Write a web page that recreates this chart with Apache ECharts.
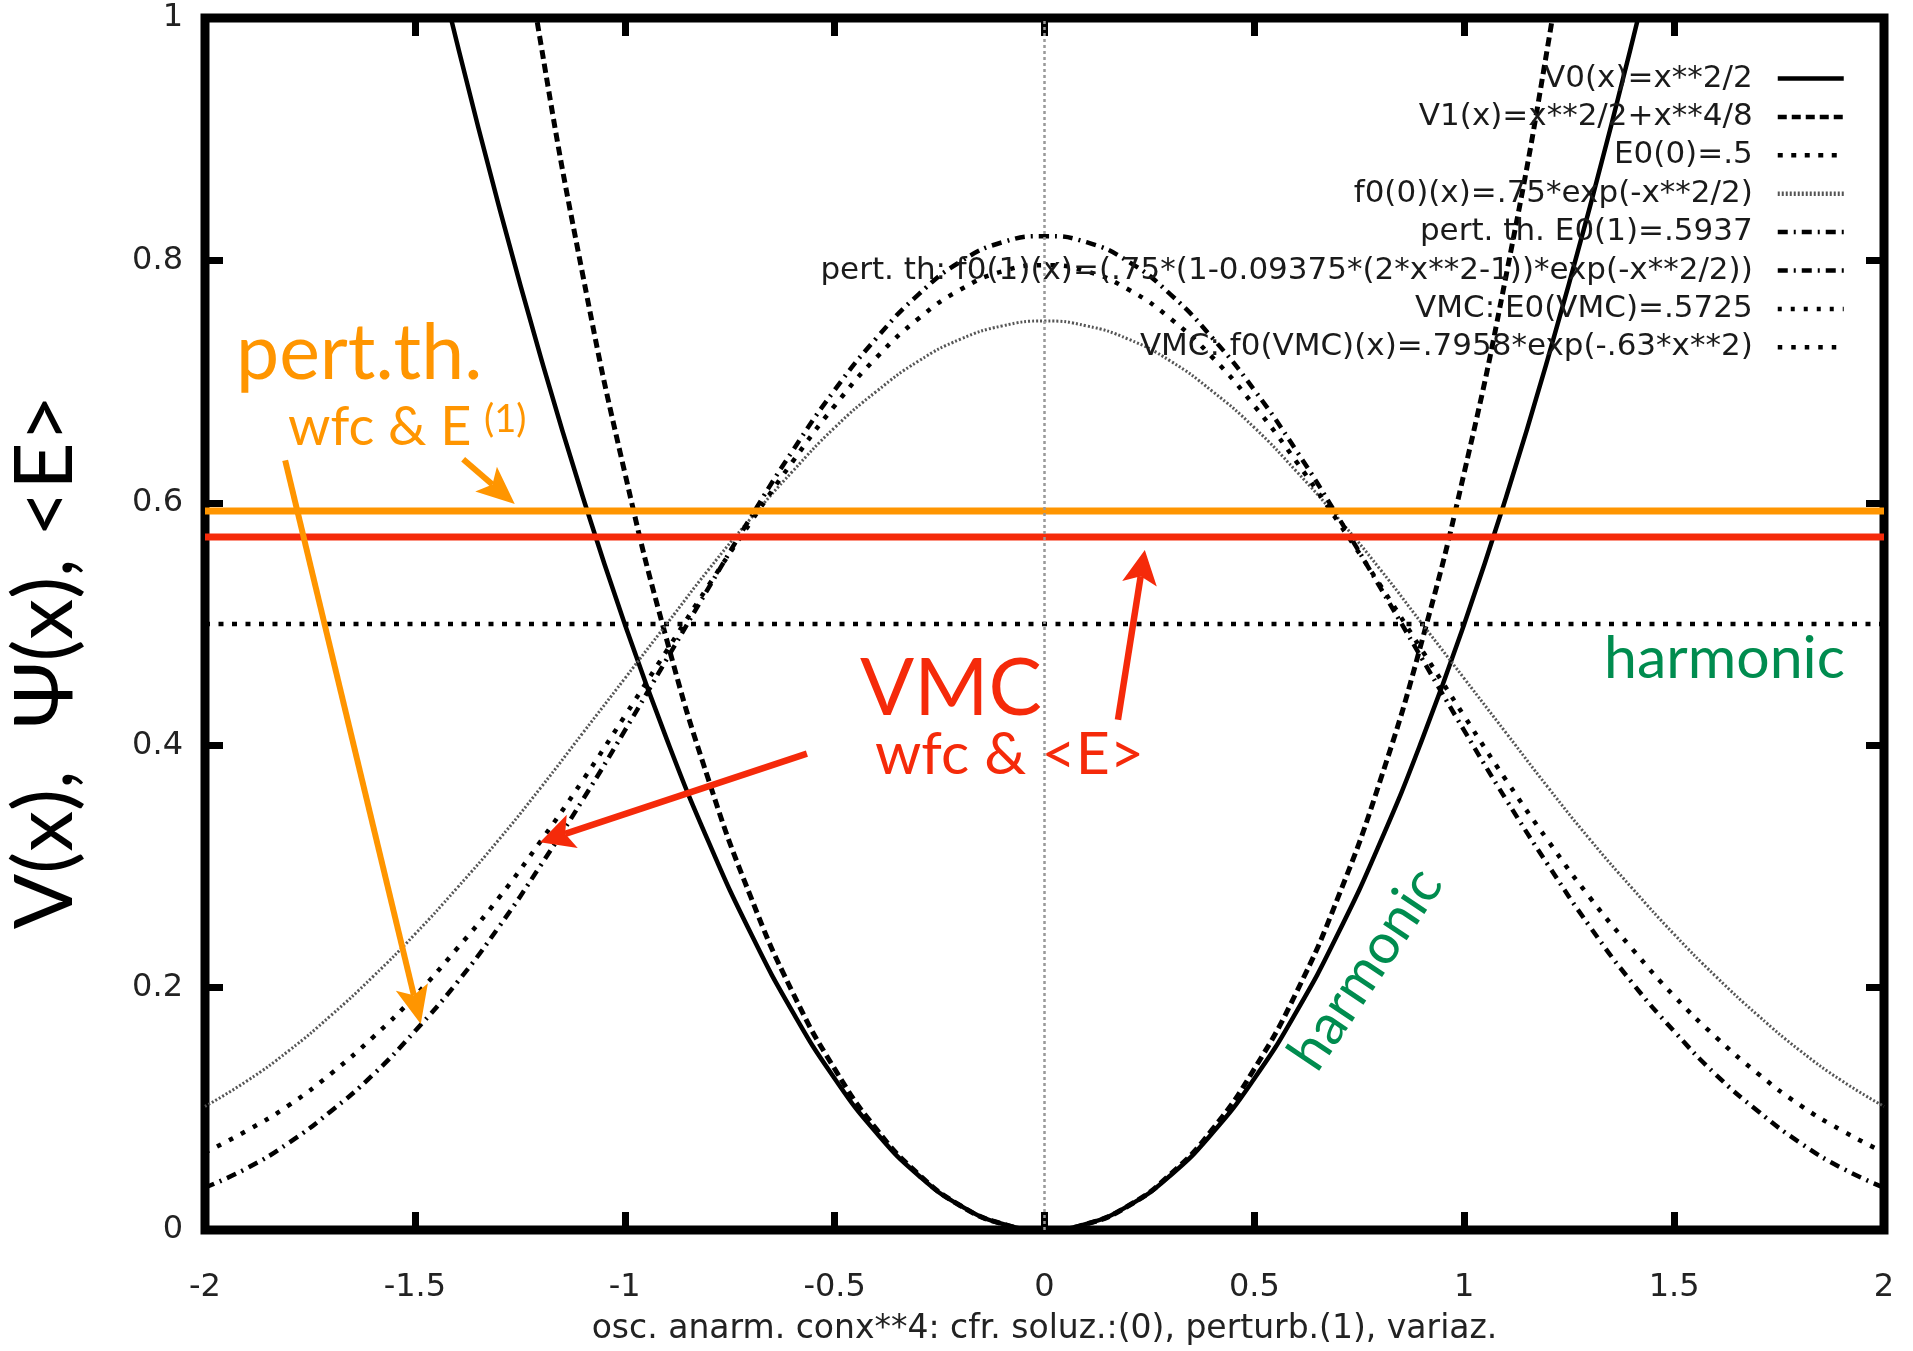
<!DOCTYPE html>
<html>
<head>
<meta charset="utf-8">
<title>osc. anarm. conx**4</title>
<script src="https://cdn.jsdelivr.net/npm/echarts@6/dist/echarts.min.js"></script>
<style>
html, body { margin: 0; padding: 0; background: #fff; }
#chart { width: 1913px; height: 1351px; }
</style>
</head>
<body>
<div id="chart"></div>
<script>
// sampled x positions of the curves
var xs = [-2, -1.9, -1.8, -1.7, -1.6, -1.5, -1.4, -1.3, -1.2, -1.1, -1, -0.9, -0.8, -0.7, -0.6, -0.5, -0.4, -0.3, -0.2, -0.1, 0,
          0.1, 0.2, 0.3, 0.4, 0.5, 0.6, 0.7, 0.8, 0.9, 1, 1.1, 1.2, 1.3, 1.4, 1.5, 1.6, 1.7, 1.8, 1.9, 2];

// V0 harmonic potential (off the top of the plot outside |x|>1.5)
var v0 = [null, null, null, null, null, 1.125, 0.980, 0.845, 0.720, 0.605, 0.500, 0.405, 0.320, 0.245, 0.180, 0.125, 0.080, 0.045, 0.020, 0.005, 0,
          0.005, 0.020, 0.045, 0.080, 0.125, 0.180, 0.245, 0.320, 0.405, 0.500, 0.605, 0.720, 0.845, 0.980, 1.125, null, null, null, null, null];
// V1 anharmonic potential
var v1 = [null, null, null, null, null, null, null, 1.202, 0.979, 0.788, 0.625, 0.487, 0.371, 0.275, 0.196, 0.133, 0.083, 0.046, 0.020, 0.005, 0,
          0.005, 0.020, 0.046, 0.083, 0.133, 0.196, 0.275, 0.371, 0.487, 0.625, 0.788, 0.979, 1.202, null, null, null, null, null, null, null];
// f0(0) harmonic wave function
var f00 = [0.102, 0.123, 0.148, 0.177, 0.209, 0.244, 0.282, 0.322, 0.365, 0.410, 0.455, 0.500, 0.545, 0.587, 0.626, 0.662, 0.692, 0.717, 0.735, 0.746, 0.750,
           0.746, 0.735, 0.717, 0.692, 0.662, 0.626, 0.587, 0.545, 0.500, 0.455, 0.410, 0.365, 0.322, 0.282, 0.244, 0.209, 0.177, 0.148, 0.123, 0.102];
// f0(1) perturbation theory wave function
var f01 = [0.035, 0.051, 0.072, 0.098, 0.128, 0.164, 0.204, 0.250, 0.301, 0.355, 0.412, 0.471, 0.530, 0.588, 0.643, 0.693, 0.736, 0.772, 0.799, 0.815, 0.820,
           0.815, 0.799, 0.772, 0.736, 0.693, 0.643, 0.588, 0.530, 0.471, 0.412, 0.355, 0.301, 0.250, 0.204, 0.164, 0.128, 0.098, 0.072, 0.051, 0.035];
// f0(VMC) variational wave function
var fvmc = [0.064, 0.082, 0.103, 0.129, 0.159, 0.193, 0.232, 0.274, 0.321, 0.371, 0.424, 0.478, 0.532, 0.584, 0.634, 0.680, 0.720, 0.752, 0.776, 0.791, 0.796,
            0.791, 0.776, 0.752, 0.720, 0.680, 0.634, 0.584, 0.532, 0.478, 0.424, 0.371, 0.321, 0.274, 0.232, 0.193, 0.159, 0.129, 0.103, 0.082, 0.064];

// energy levels (horizontal lines)
var levelXs = [-2, 2];
var e00 = [0.5, 0.5];
var e01 = [0.5937, 0.5937];
var evmc = [0.5725, 0.5725];
// hand drawn coloured marks over the two energies
var pertMark = [0.5932, 0.5932];
var vmcMark = [0.5718, 0.5718];

var names = [
    'V0(x)=x**2/2',
    'V1(x)=x**2/2+x**4/8',
    'E0(0)=.5',
    'f0(0)(x)=.75*exp(-x**2/2)',
    'pert. th. E0(1)=.5937',
    'pert. th: f0(1)(x)=(.75*(1-0.09375*(2*x**2-1))*exp(-x**2/2))',
    'VMC: E0(VMC)=.5725',
    'VMC: f0(VMC)(x)=.7958*exp(-.63*x**2)'
];

// annotation arrows, [from, to] in data coords
var orangeArrows = [[[-1.385, 0.636], [-1.262, 0.599]], [[-1.809, 0.635], [-1.486, 0.170]]];
var redArrows = [[[-0.566, 0.393], [-1.202, 0.320]], [[0.175, 0.421], [0.239, 0.561]]];

var ORANGE = '#ff9500';
var RED = '#f52a0a';
var GREEN = '#008c4f';
var TXT = 'DejaVu Sans';
var HAND = 'Lato, "Noto Sans", sans-serif';

function pairs(x, y) {
    var out = [];
    for (var i = 0; i < x.length; i++) out.push([x[i], y[i]]);
    return out;
}

function curve(name, x, y, width, type, color, smooth) {
    return {
        name: name,
        type: 'line',
        data: pairs(x, y),
        symbol: 'none',
        smooth: smooth ? 0.5 : false,
        clip: true,
        silent: true,
        lineStyle: {color: color || '#000', width: width, type: type, cap: 'butt'},
        itemStyle: {color: color || '#000'}
    };
}

var chart = echarts.init(document.getElementById('chart'));

var series = [
    curve(names[0], xs, v0, 4.5, 'solid', '#000', true),
    curve(names[1], xs, v1, 5, [9, 5], '#000', true),
    curve(names[2], levelXs, e00, 4.5, [5, 8.5], '#000', false),
    curve(names[3], xs, f00, 3, [2, 2], '#555', true),
    curve(names[4], levelXs, e01, 4, [10, 6, 2, 6], '#000', false),
    curve(names[5], xs, f01, 4.5, [10, 6, 2, 6], '#000', true),
    curve(names[6], levelXs, evmc, 4, [4, 9], '#000', false),
    curve(names[7], xs, fvmc, 4.5, [4.5, 9], '#000', true),
    curve('pertMark', levelXs, pertMark, 7, 'solid', ORANGE, false),
    curve('vmcMark', levelXs, vmcMark, 7, 'solid', RED, false)
];
// dotted zero axis
series[3].markLine = {
    silent: true,
    symbol: 'none',
    label: {show: false},
    lineStyle: {color: '#999', width: 2.5, type: [3, 3]},
    data: [{xAxis: 0}]
};

var tickStyle = {inside: true, length: 18, lineStyle: {color: '#000', width: 7}};
var noLine = {show: false, onZero: false};

var option = {
    animation: false,
    backgroundColor: '#fff',
    grid: {left: 205, right: 29, top: 18, bottom: 99, show: true, borderWidth: 9, borderColor: '#000'},
    legend: {
        data: names,
        orient: 'vertical',
        align: 'right',
        right: 67,
        top: 63,
        padding: 0,
        itemGap: 7.4,
        itemWidth: 66,
        itemHeight: 2,
        itemStyle: {opacity: 0},
        lineStyle: {width: 4.5},
        selectedMode: false,
        textStyle: {fontFamily: TXT, fontSize: 31, color: '#1a1a1a', lineHeight: 30, padding: [0, 20, 0, 0]}
    },
    xAxis: [{
        type: 'value', min: -2, max: 2, interval: 0.5,
        axisLine: noLine, splitLine: {show: false}, axisTick: tickStyle,
        axisLabel: {fontFamily: TXT, fontSize: 32, color: '#222', margin: 42},
        name: 'osc. anarm. conx**4: cfr. soluz.:(0), perturb.(1), variaz.',
        nameLocation: 'middle', nameGap: 83,
        nameTextStyle: {fontFamily: TXT, fontSize: 33, color: '#222'}
    }, {
        type: 'value', position: 'top', min: -2, max: 2, interval: 0.5,
        axisLine: noLine, splitLine: {show: false}, axisTick: tickStyle, axisLabel: {show: false}
    }],
    yAxis: [{
        type: 'value', min: 0, max: 1, interval: 0.2,
        axisLine: noLine, splitLine: {show: false}, axisTick: tickStyle,
        axisLabel: {fontFamily: TXT, fontSize: 32, color: '#222', margin: 22}
    }, {
        type: 'value', position: 'right', min: 0, max: 1, interval: 0.2,
        axisLine: noLine, splitLine: {show: false}, axisTick: tickStyle, axisLabel: {show: false}
    }],
    series: series
};
chart.setOption(option);

function label(text, x, y, size, color, rot) {
    return {
        type: 'text', x: x, y: y, rotation: rot || 0, z: 100, silent: true,
        style: {text: text, fontFamily: HAND, fontSize: size, fill: color, align: 'left', verticalAlign: 'middle'}
    };
}

function arrows(list, color, headLen, headWidth, width) {
    var out = [];
    list.forEach(function (a) {
        var p0 = chart.convertToPixel({xAxisIndex: 0, yAxisIndex: 0}, a[0]);
        var p1 = chart.convertToPixel({xAxisIndex: 0, yAxisIndex: 0}, a[1]);
        var dx = p1[0] - p0[0], dy = p1[1] - p0[1];
        var len = Math.sqrt(dx * dx + dy * dy);
        var ux = dx / len, uy = dy / len, nx = -uy, ny = ux;
        var bx = p1[0] - ux * headLen, by = p1[1] - uy * headLen;
        var mx = p1[0] - ux * headLen * 0.78, my = p1[1] - uy * headLen * 0.78;
        out.push({type: 'line', z: 100, silent: true,
            shape: {x1: p0[0], y1: p0[1], x2: mx, y2: my},
            style: {stroke: color, lineWidth: width}});
        out.push({type: 'polygon', z: 100, silent: true,
            shape: {points: [p1, [bx + nx * headWidth / 2, by + ny * headWidth / 2], [mx, my], [bx - nx * headWidth / 2, by - ny * headWidth / 2]]},
            style: {fill: color}});
    });
    return out;
}

var graphics = [
    label('pert.th.', 236, 354, 77, ORANGE),
    label('wfc & E', 288, 428, 54, ORANGE),
    label('(1)', 484, 420, 38, ORANGE),
    label('VMC', 860, 689, 80, RED),
    label('wfc & <E>', 875, 755, 59, RED),
    label('harmonic', 1604, 659, 59, GREEN),
    label('harmonic', 1302, 1064, 56, GREEN, 0.98),
    {
        type: 'text', x: 46, y: 662, rotation: Math.PI / 2, silent: true,
        style: {text: 'V(x),  \u03a8(x), <E>', fontFamily: HAND, fontSize: 82, fill: '#000', align: 'center', verticalAlign: 'middle'}
    }
].concat(arrows(orangeArrows, ORANGE, 38, 33, 6), arrows(redArrows, RED, 34, 35, 6.5));

chart.setOption({graphic: graphics});
</script>
</body>
</html>
